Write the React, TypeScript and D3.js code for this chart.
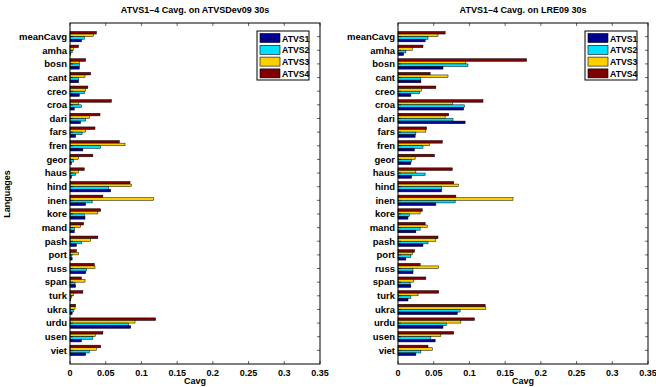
import React from 'react';
import * as d3 from 'd3';

const languages = ['meanCavg', 'amha', 'bosn', 'cant', 'creo', 'croa', 'dari', 'fars', 'fren', 'geor', 'haus', 'hind', 'inen', 'kore', 'mand', 'pash', 'port', 'russ', 'span', 'turk', 'ukra', 'urdu', 'usen', 'viet'];
const seriesNames = ['ATVS1', 'ATVS2', 'ATVS3', 'ATVS4'];
const seriesColors = ['#00008f', '#00e0ff', '#ffd000', '#800000'];
const xTicks = [0, 0.05, 0.1, 0.15, 0.2, 0.25, 0.3, 0.35];

// ATVSDev09 30s
const devAtvs1 = [0.016, 0.001, 0.013, 0.012, 0.013, 0.006, 0.015, 0.008, 0.018, 0.002, 0.002, 0.057, 0.022, 0.021, 0.006, 0.009, 0.003, 0.022, 0.008, 0.001, 0.003, 0.085, 0.016, 0.022];
const devAtvs2 = [0.020, 0.003, 0.013, 0.012, 0.020, 0.016, 0.022, 0.017, 0.043, 0.005, 0.008, 0.054, 0.031, 0.020, 0.006, 0.016, 0.002, 0.023, 0.007, 0.002, 0.005, 0.082, 0.032, 0.027];
const devAtvs3 = [0.033, 0.005, 0.013, 0.021, 0.022, 0.012, 0.027, 0.022, 0.077, 0.012, 0.012, 0.086, 0.117, 0.039, 0.015, 0.029, 0.012, 0.035, 0.021, 0.005, 0.007, 0.091, 0.036, 0.037];
const devAtvs4 = [0.037, 0.012, 0.022, 0.029, 0.025, 0.058, 0.042, 0.035, 0.069, 0.032, 0.020, 0.084, 0.046, 0.043, 0.019, 0.039, 0.009, 0.034, 0.016, 0.018, 0.008, 0.120, 0.046, 0.043];

// LRE09 30s
const lreAtvs1 = [0.038, 0.008, 0.063, 0.032, 0.018, 0.092, 0.094, 0.024, 0.023, 0.018, 0.019, 0.061, 0.053, 0.014, 0.025, 0.035, 0.011, 0.021, 0.018, 0.014, 0.083, 0.063, 0.052, 0.025];
const lreAtvs2 = [0.042, 0.011, 0.098, 0.032, 0.030, 0.093, 0.077, 0.025, 0.035, 0.019, 0.038, 0.061, 0.080, 0.016, 0.031, 0.042, 0.018, 0.021, 0.017, 0.018, 0.087, 0.068, 0.046, 0.032];
const lreAtvs3 = [0.056, 0.020, 0.095, 0.070, 0.033, 0.076, 0.066, 0.039, 0.044, 0.024, 0.025, 0.085, 0.161, 0.031, 0.041, 0.053, 0.020, 0.057, 0.022, 0.028, 0.123, 0.088, 0.060, 0.048];
const lreAtvs4 = [0.066, 0.035, 0.180, 0.045, 0.053, 0.119, 0.071, 0.040, 0.062, 0.051, 0.076, 0.078, 0.081, 0.034, 0.038, 0.056, 0.023, 0.031, 0.039, 0.057, 0.122, 0.107, 0.078, 0.042];

const font = 'Liberation Sans, Arial, Helvetica, sans-serif';

function Panel({ left, title, data, legendX }) {
  const top = 23;
  const bottom = 364;
  const width = 250;
  const x = d3.scaleLinear().domain([0, 0.35]).range([left, left + width]);
  const y = d3.scaleLinear().domain([0, 25]).range([top, bottom]);
  const barH = 2.6;
  return (
    <g>
      <text x={left + width / 2} y={13} textAnchor="middle" fontSize={9} fontWeight="bold" fontFamily={font}>{title}</text>
      {languages.map((lang, i) => {
        const cy = y(i + 1);
        return (
          <g key={lang}>
            {[3, 2, 1, 0].map((s, k) => (
              <rect key={s} x={x(0)} y={cy - 2 * barH + k * barH} width={x(data[s][i]) - x(0)} height={barH}
                fill={seriesColors[s]} stroke="#000" strokeWidth={0.5} />
            ))}
            <line x1={left} x2={left + 3} y1={cy} y2={cy} stroke="#000" strokeWidth={0.6} />
            <line x1={left + width - 3} x2={left + width} y1={cy} y2={cy} stroke="#000" strokeWidth={0.6} />
            <text x={left - 3} y={cy + 3.3} textAnchor="end" fontSize={9.5} fontWeight="bold" fontFamily={font}>{lang}</text>
          </g>
        );
      })}
      {xTicks.map(t => (
        <g key={t}>
          <line x1={x(t)} x2={x(t)} y1={top} y2={top + 3} stroke="#000" strokeWidth={0.6} />
          <line x1={x(t)} x2={x(t)} y1={bottom - 3} y2={bottom} stroke="#000" strokeWidth={0.6} />
          <text x={x(t)} y={bottom + 11.5} textAnchor="middle" fontSize={9} fontWeight="bold" fontFamily={font}>{t}</text>
        </g>
      ))}
      <rect x={left} y={top} width={width} height={bottom - top} fill="none" stroke="#000" strokeWidth={1} />
      <text x={left + width / 2} y={384} textAnchor="middle" fontSize={9} fontWeight="bold" fontFamily={font}>Cavg</text>
      <g>
        <rect x={legendX} y={31} width={52} height={49} fill="#fff" stroke="#000" strokeWidth={1} />
        {seriesNames.map((name, s) => (
          <g key={name}>
            <rect x={legendX + 3} y={33.5 + s * 11.8} width={20} height={9} fill={seriesColors[s]} stroke="#000" strokeWidth={0.6} />
            <text x={legendX + 25} y={41.5 + s * 11.8} fontSize={8.7} fontWeight="bold" fontFamily={font}>{name}</text>
          </g>
        ))}
      </g>
    </g>
  );
}

export default function App() {
  return (
    <svg width={656} height={387} style={{ position: 'absolute', left: 0, top: 0, background: '#fff' }}>
      <rect width={656} height={387} fill="#fff" />
      <text transform="translate(10,194) rotate(-90)" textAnchor="middle" fontSize={9} fontWeight="bold" fontFamily={font}>Languages</text>
      <Panel left={70} title="ATVS1–4 Cavg. on ATVSDev09 30s" data={[devAtvs1, devAtvs2, devAtvs3, devAtvs4]} legendX={257} />
      <Panel left={398} title="ATVS1–4 Cavg. on LRE09 30s" data={[lreAtvs1, lreAtvs2, lreAtvs3, lreAtvs4]} legendX={585} />
    </svg>
  );
}
